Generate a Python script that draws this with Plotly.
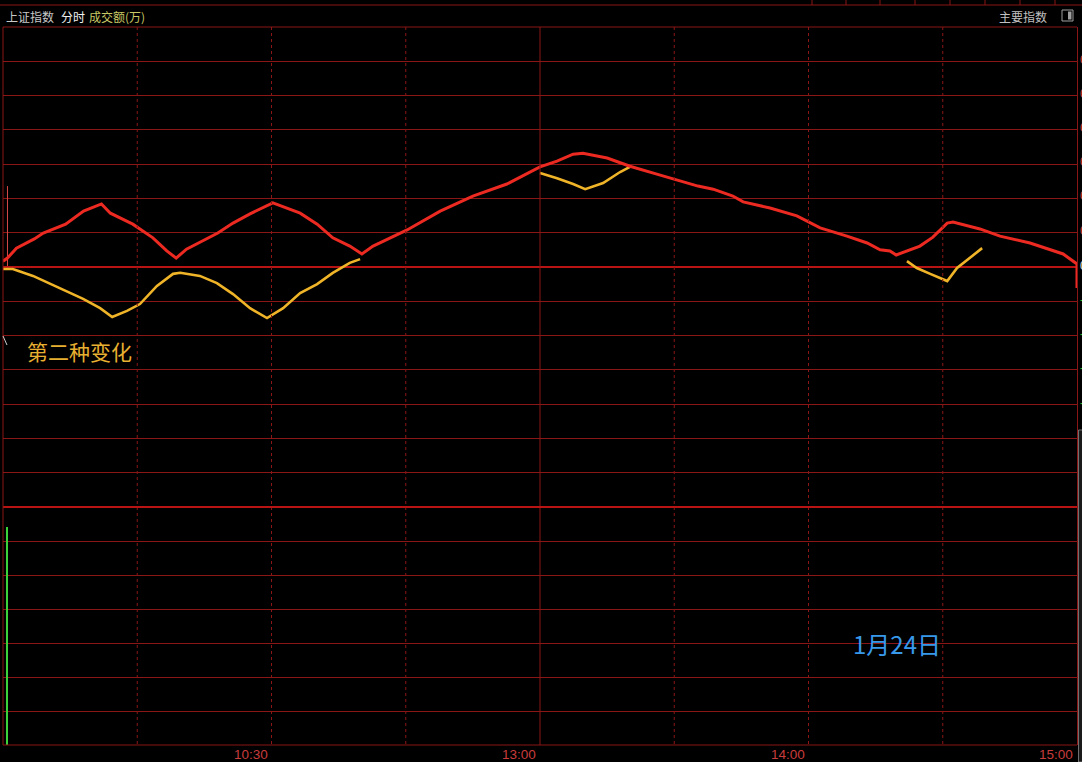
import plotly.graph_objects as go

W, H = 1082, 762

# ---- data (minutes after 09:30 on the trading clock; 120 = 11:30/13:00, 240 = 15:00) ----
index_min = [0, 1, 3, 7, 9, 14, 18, 22, 24, 29, 33.5, 36.6, 38.7, 41, 48, 51.4, 55.2, 60.3,
             66.4, 70.2, 73.7, 77.5, 80.2, 82.7, 90.3, 97.7, 105, 112.6, 120, 123.8, 127.4,
             129.6, 135, 140.1, 146.1, 150.6, 155.3, 158.7, 163.1, 165.4, 171.4, 177.4,
             182.6, 188.6, 193.1, 196, 198.2, 199.6, 202, 204.9, 207.8, 211, 212.3, 218.3,
             222.8, 229.5, 236.9, 240, 240]
index_pct = [0.017, 0.026, 0.055, 0.082, 0.099, 0.125, 0.163, 0.184, 0.157, 0.125, 0.085,
             0.047, 0.026, 0.052, 0.099, 0.128, 0.155, 0.187, 0.157, 0.125, 0.085, 0.061,
             0.038, 0.061, 0.108, 0.163, 0.207, 0.242, 0.292, 0.309, 0.329, 0.332, 0.318,
             0.294, 0.271, 0.254, 0.236, 0.227, 0.207, 0.190, 0.172, 0.149, 0.114, 0.090,
             0.070, 0.050, 0.047, 0.035, 0.047, 0.061, 0.087, 0.128, 0.131, 0.111, 0.090,
             0.070, 0.038, 0.009, -0.061]

change_min = [0, 2.2, 6.7, 14.3, 17.9, 21.7, 24.4, 27.7, 30.6, 34.4, 38, 39.6, 44, 47.8,
              51.4, 55.2, 59, 62.6, 66.4, 70.2, 73.7, 77.5, 79.8, None,
              120, 123.8, 127.4, 130.1, 134.1, 137.9, 140.1, None,
              202, 204.2, 207.2, 211, 213.2, 216.1, 218.8]
change_pct = [-0.006, -0.006, -0.026, -0.070, -0.093, -0.120, -0.146, -0.128, -0.108,
              -0.055, -0.020, -0.017, -0.026, -0.047, -0.079, -0.120, -0.149, -0.120,
              -0.076, -0.050, -0.017, 0.012, 0.023, None,
              0.274, 0.259, 0.242, 0.227, 0.245, 0.277, 0.292, None,
              0.017, -0.003, -0.020, -0.041, -0.003, 0.026, 0.055]

first_tick_min = [1, 1]
first_tick_pct = [0.236, 0.003]

volume_min = [1]
volume_val = [6.4]

axis_times = ["09:30", "10:30", "13:00", "14:00", "15:00"]
axis_time_min = [0, 60, 120, 180, 240]
minor_lines_min = [30, 60, 90, 150, 180, 210]
scale_pct = [0.6, 0.5, 0.4, 0.3, 0.2, 0.1, 0.0, -0.1, -0.2, -0.3, -0.4]

# ---- layout helpers ----
X0, X1 = 3, 1077          # plot left/right px
YT, YM, YB = 27, 507, 745  # main top, separator, volume bottom px


def py(p):
    return 1 - p / H


def px(p):
    return p / W


GRID = "#8a1616"
BRIGHT = "#b81414"

fig = go.Figure()
fig.add_trace(go.Scatter(x=first_tick_min, y=first_tick_pct, mode="lines",
                         line=dict(color="#d84848", width=1), hoverinfo="skip"))
fig.add_trace(go.Scatter(x=change_min, y=change_pct, mode="lines",
                         line=dict(color="#f0b428", width=2.6), connectgaps=False, hoverinfo="skip"))
fig.add_trace(go.Scatter(x=index_min, y=index_pct, mode="lines",
                         line=dict(color="#ec2a22", width=3), hoverinfo="skip"))
fig.add_trace(go.Bar(x=volume_min, y=volume_val, width=0.28, marker=dict(color="#3cd23c", line=dict(width=0)),
                     yaxis="y2", hoverinfo="skip"))

shapes = []


def hline(y, x0=X0, x1=X1, color=GRID, width=1):
    shapes.append(dict(type="line", xref="paper", yref="paper", x0=px(x0), x1=px(x1),
                       y0=py(y), y1=py(y), line=dict(color=color, width=width)))


def vline_px(x, y0, y1, color=GRID, width=1):
    shapes.append(dict(type="line", xref="paper", yref="paper", x0=px(x), x1=px(x),
                       y0=py(y0), y1=py(y1), line=dict(color=color, width=width)))


# vertical time lines
for m in minor_lines_min:
    shapes.append(dict(type="line", xref="x", yref="paper", x0=m, x1=m, y0=py(YT), y1=py(YB),
                       line=dict(color=GRID, width=1, dash="dot")))
shapes.append(dict(type="line", xref="x", yref="paper", x0=120, x1=120, y0=py(YT), y1=py(YB),
                   line=dict(color=GRID, width=1)))

# frame
hline(5, 0, W)
hline(YT)
hline(YB)
hline(YM, color=BRIGHT, width=2.2)
vline_px(X0, YT, YB)
vline_px(X1 + 0.5, YT, YB)
for sx in [812, 846, 880, 915, 950, 985, 1020, 1055]:
    vline_px(sx, 0, 5)

# header icon
shapes.append(dict(type="rect", xref="paper", yref="paper", x0=px(1062), x1=px(1073),
                   y0=py(21), y1=py(10), line=dict(color="#a0a0a0", width=1), fillcolor="rgba(0,0,0,0)"))
shapes.append(dict(type="rect", xref="paper", yref="paper", x0=px(1068), x1=px(1071.5),
                   y0=py(19.5), y1=py(11.5), line=dict(width=0), fillcolor="#a0a0a0"))
# cursor mark and scrollbar hint
shapes.append(dict(type="line", xref="paper", yref="paper", x0=px(3), x1=px(7),
                   y0=py(336), y1=py(345), line=dict(color="#d0d0d0", width=1)))
shapes.append(dict(type="rect", xref="paper", yref="paper", x0=px(1078.5), x1=px(1083),
                   y0=py(762), y1=py(430), line=dict(color="#707070", width=1), fillcolor="#1a1a1a"))

annotations = []


def ann(text, x, y, size, color, xanchor="left", xref="paper", family="Noto Sans CJK SC", xshift=0):
    annotations.append(dict(text=text, x=(px(x) if xref == "paper" else x), y=py(y), xref=xref,
                            yref="paper", xanchor=xanchor, yanchor="middle", showarrow=False,
                            xshift=xshift, font=dict(size=size, color=color, family=family)))


ann("上证指数", 4, 16, 12, "#c8c8c8")
ann("分时", 59, 16, 12, "#f0f0f0")
ann("成交额(万)", 87, 16, 12, "#c8c864")
ann("主要指数", 1049, 16, 12, "#c0c0c0", xanchor="right")

for t, m in zip(axis_times, axis_time_min):
    ann(t, m, 754, 13.5, "#c83c3c", xanchor="right", xref="x", family="Liberation Sans", xshift=-2)

for v, ypx in zip(scale_pct, [60, 94, 128, 162, 196, 231, 266, 300, 334, 368, 403]):
    col = "#d04040" if v > 0 else ("#30c030" if v < 0 else "#e0e0e0")
    ann(f"{v:.2f}%", 1078, ypx, 12, col, family="Liberation Sans")

ann("第二种变化", 25, 351, 21, "#e8b030")
ann("1月24日", 897, 643, 24, "#3898ea", xanchor="center")

fig.update_layout(
    width=W, height=H, margin=dict(l=0, r=0, t=0, b=0),
    paper_bgcolor="#000000", plot_bgcolor="#000000", showlegend=False,
    xaxis=dict(domain=[px(X0), px(X1)], range=[0, 240], showgrid=False, zeroline=False,
               showticklabels=False, showline=False, fixedrange=True),
    yaxis=dict(domain=[py(YM), py(YT)], range=[-0.7, 0.7], dtick=0.1, tick0=0, showgrid=True,
               gridcolor=GRID, gridwidth=1, zeroline=True, zerolinecolor=BRIGHT, zerolinewidth=2.2,
               showticklabels=False, showline=False, fixedrange=True),
    yaxis2=dict(domain=[py(YB), py(YM)], range=[0, 7], dtick=1, anchor="x", showgrid=True,
                gridcolor=GRID, gridwidth=1, zeroline=False, showticklabels=False, fixedrange=True),
    shapes=shapes, annotations=annotations, bargap=0,
)

fig.write_html(
    "out.html",
    config={"displayModeBar": False},
    post_script="document.body.style.margin='0px';document.body.style.background='#000';"
                "document.body.style.overflow='hidden';",
)
